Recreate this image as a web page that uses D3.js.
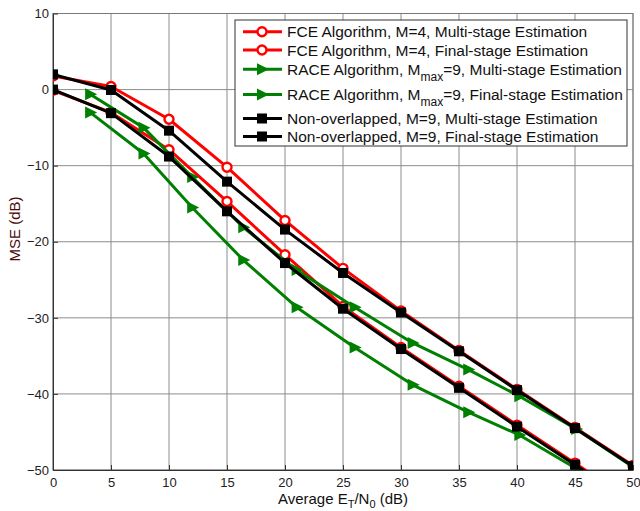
<!DOCTYPE html>
<html lang="en">
<head>
<meta charset="UTF-8" />
<title>MSE vs Average ET/N0</title>
<script src="https://d3js.org/d3.v7.min.js"></script>
<style>
  body { margin: 0; background: #fff; }
  text { font-family: "Liberation Sans", Arial, sans-serif; }
</style>
</head>
<body>
<script>
// x positions (dB)
var snrFCE = [0, 5, 10, 15, 20, 25, 30, 35, 40, 45, 50];
var snrRACE = [3.2, 7.8, 12.0, 16.4, 21.0, 26.0, 31.0, 35.8, 40.2, 45.1, 50];

// MSE values (dB)
var fceMulti  = [1.8, 0.4, -3.9, -10.2, -17.2, -23.5, -29.1, -34.3, -39.4, -44.4, -49.4];
var fceFinal  = [-0.1, -3.0, -7.9, -14.7, -21.7, -28.5, -33.9, -39.0, -44.1, -49.1, -54.2];
var raceMulti = [-0.6, -5.0, -11.5, -18.1, -23.7, -28.6, -33.3, -36.8, -40.3, -44.6, -49.6];
var raceFinal = [-3.0, -8.4, -15.5, -22.4, -28.6, -33.9, -38.8, -42.4, -45.4, -49.8, -54.5];
var nonMulti  = [2.0, -0.05, -5.4, -12.1, -18.4, -24.1, -29.3, -34.4, -39.5, -44.5, -49.5];
var nonFinal  = [0.0, -3.1, -8.8, -16.0, -22.8, -28.8, -34.1, -39.2, -44.3, -49.3, -54.4];

var xTicks = [0, 5, 10, 15, 20, 25, 30, 35, 40, 45, 50];
var yTicks = [10, 0, -10, -20, -30, -40, -50];

var series = [
  { x: snrFCE,  y: fceMulti,  color: "#ff0000", marker: "circle",   label: ["FCE Algorithm, M=4, Multi-stage Estimation"] },
  { x: snrFCE,  y: fceFinal,  color: "#ff0000", marker: "circle",   label: ["FCE Algorithm, M=4, Final-stage Estimation"] },
  { x: snrRACE, y: raceMulti, color: "#008000", marker: "triangle", label: ["RACE Algorithm, M", "max", "=9, Multi-stage Estimation"] },
  { x: snrRACE, y: raceFinal, color: "#008000", marker: "triangle", label: ["RACE Algorithm, M", "max", "=9, Final-stage Estimation"] },
  { x: snrFCE,  y: nonMulti,  color: "#000000", marker: "square",   label: ["Non-overlapped, M=9, Multi-stage Estimation"] },
  { x: snrFCE,  y: nonFinal,  color: "#000000", marker: "square",   label: ["Non-overlapped, M=9, Final-stage Estimation"] }
];

var W = 640, H = 511;
var m = { left: 53, top: 13.5, right: 7, bottom: 41 };
var pw = W - m.left - m.right, ph = H - m.top - m.bottom;

var svg = d3.select("body").append("svg").attr("width", W).attr("height", H);
var g = svg.append("g").attr("transform", "translate(" + m.left + "," + m.top + ")");

var x = d3.scaleLinear().domain([0, 50]).range([0, pw]);
var y = d3.scaleLinear().domain([-50, 10]).range([ph, 0]);

// grid
g.append("g").selectAll("line").data(xTicks).join("line")
  .attr("x1", d => x(d)).attr("x2", d => x(d)).attr("y1", 0).attr("y2", ph)
  .attr("stroke", "#8c8c8c").attr("stroke-width", 1);
g.append("g").selectAll("line").data(yTicks).join("line")
  .attr("y1", d => y(d)).attr("y2", d => y(d)).attr("x1", 0).attr("x2", pw)
  .attr("stroke", "#8c8c8c").attr("stroke-width", 1);

// box
g.append("rect").attr("width", pw).attr("height", ph)
  .attr("fill", "none").attr("stroke", "#7a7a7a");

// axes
var xAxis = g.append("g").attr("transform", "translate(0," + ph + ")")
  .call(d3.axisBottom(x).tickValues(xTicks).tickSizeInner(-5).tickSizeOuter(0).tickPadding(8));
var yAxis = g.append("g")
  .call(d3.axisLeft(y).tickValues(yTicks).tickSizeInner(-5).tickSizeOuter(0).tickPadding(4));
[xAxis, yAxis].forEach(function(a) {
  a.select(".domain").attr("stroke", "#333");
  a.selectAll(".tick line").attr("stroke", "#333");
  a.selectAll(".tick text").attr("font-size", 13).attr("fill", "#222")
    .attr("font-family", "'Liberation Sans', Arial, sans-serif");
});

// clip
svg.append("defs").append("clipPath").attr("id", "clip")
  .append("rect").attr("width", pw).attr("height", ph);
var plot = g.append("g").attr("clip-path", "url(#clip)");

var line = d3.line().x(d => x(d[0])).y(d => y(d[1]));

function drawMarker(sel, type, color) {
  if (type === "circle") {
    sel.append("circle").attr("r", 4.5).attr("fill", "#fff")
      .attr("stroke", color).attr("stroke-width", 2.4);
  } else if (type === "square") {
    sel.append("rect").attr("x", -5).attr("y", -5).attr("width", 10).attr("height", 10)
      .attr("fill", color);
  } else {
    sel.append("path").attr("d", "M-5,-6L7,0L-5,6Z").attr("fill", color);
  }
}

series.forEach(function(s) {
  var pts = s.x.map((v, i) => [v, s.y[i]]);
  plot.append("path").datum(pts).attr("d", line)
    .attr("fill", "none").attr("stroke", s.color).attr("stroke-width", 3)
    .attr("stroke-linejoin", "round");
  plot.selectAll(null).data(pts).join("g")
    .attr("transform", d => "translate(" + x(d[0]) + "," + y(d[1]) + ")")
    .each(function() { drawMarker(d3.select(this), s.marker, s.color); });
});

// axis labels
var xl = svg.append("text").attr("x", m.left + pw / 2).attr("y", 504)
  .attr("text-anchor", "middle").attr("font-size", 15).attr("fill", "#111");
xl.append("tspan").text("Average E");
xl.append("tspan").attr("dy", 4).attr("font-size", 11).text("T");
xl.append("tspan").attr("dy", -4).text("/N");
xl.append("tspan").attr("dy", 4).attr("font-size", 11).text("0");
xl.append("tspan").attr("dy", -4).text(" (dB)");

svg.append("text").attr("transform", "translate(20,229) rotate(-90)")
  .attr("text-anchor", "middle").attr("font-size", 15).attr("fill", "#4a0a0a")
  .text("MSE (dB)");

// legend
var legY = [31.7, 50, 69.3, 94.5, 118.5, 136.5];
var leg = svg.append("g");
leg.append("rect").attr("x", 235).attr("y", 20).attr("width", 392).attr("height", 126)
  .attr("fill", "#fff").attr("stroke", "#333").attr("stroke-width", 1);
series.forEach(function(s, i) {
  var row = leg.append("g").attr("transform", "translate(0," + legY[i] + ")");
  row.append("line").attr("x1", 243).attr("x2", 282).attr("stroke", s.color).attr("stroke-width", 3);
  drawMarker(row.append("g").attr("transform", "translate(262,0)"), s.marker, s.color);
  var t = row.append("text").attr("x", 287).attr("y", 5.5).attr("font-size", 15.5).attr("fill", "#111");
  t.append("tspan").text(s.label[0]);
  if (s.label.length > 1) {
    t.append("tspan").attr("dy", 6).attr("font-size", 12).text(s.label[1]);
    t.append("tspan").attr("dy", -6).text(s.label[2]);
  }
});
</script>
</body>
</html>
